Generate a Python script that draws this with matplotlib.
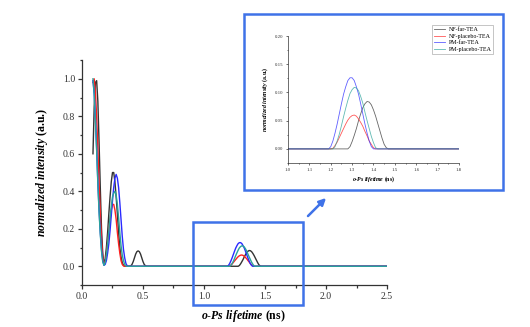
# o-Ps lifetime distribution plot with zoomed inset
import matplotlib
matplotlib.use("Agg")
import numpy as np
from matplotlib import pyplot as plt
from matplotlib.patches import Rectangle, FancyArrowPatch
from matplotlib.ticker import MultipleLocator

plt.rcParams['font.family'] = ['Liberation Serif', 'DejaVu Serif']
plt.rcParams['mathtext.fontset'] = 'custom'
plt.rcParams['mathtext.it'] = 'Liberation Serif:italic:bold'
plt.rcParams['mathtext.rm'] = 'Liberation Serif:bold'
plt.rcParams['mathtext.default'] = 'it'

# lifetime grid (ns): short part and long part
lifetime_short = [0.09, 0.10, 0.11, 0.12, 0.13, 0.14, 0.15, 0.16, 0.17, 0.18,
                  0.19, 0.20, 0.21, 0.22, 0.23, 0.24, 0.25, 0.26, 0.27, 0.28,
                  0.29, 0.30, 0.31, 0.32, 0.33, 0.34, 0.35, 0.36, 0.37, 0.38,
                  0.39, 0.40, 0.41, 0.42, 0.43, 0.44, 0.45, 0.46, 0.47, 0.48,
                  0.49, 0.50, 0.51, 0.52, 0.53, 0.54]
lifetime_long = [1.18, 1.19, 1.20, 1.21, 1.22, 1.23, 1.24, 1.25, 1.26, 1.27,
                 1.28, 1.29, 1.30, 1.31, 1.32, 1.33, 1.34, 1.35, 1.36, 1.37,
                 1.38, 1.39, 1.40, 1.41, 1.42, 1.43, 1.44, 1.45, 1.46, 1.47,
                 1.48, 2.50]

nf_far_short = [0.60, 0.85, 0.98, 0.99, 0.88, 0.66, 0.42, 0.20, 0.07, 0.01,
                0.04, 0.10, 0.18, 0.28, 0.37, 0.45, 0.50, 0.50, 0.45, 0.37,
                0.28, 0.18, 0.10, 0.05, 0.02, 0.005, 0.0, 0.0, 0.0, 0.0,
                0.0, 0.002, 0.01, 0.025, 0.045, 0.065, 0.078, 0.082, 0.078, 0.065,
                0.045, 0.025, 0.01, 0.003, 0.0, 0.0]
nf_far_long = [0.0, 0.0, 0.0, 0.0, 0.0, 0.0, 0.0, 0.0, 0.0, 0.0,
               0.0, 0.004, 0.013, 0.024, 0.036, 0.050, 0.062, 0.073, 0.080, 0.084,
               0.083, 0.078, 0.069, 0.058, 0.045, 0.032, 0.019, 0.008, 0.002, 0.0,
               0.0, 0.0]

nf_placebo_short = [0.98, 1.00, 0.93, 0.80, 0.63, 0.45, 0.28, 0.14, 0.05, 0.01,
                    0.02, 0.06, 0.12, 0.19, 0.25, 0.30, 0.33, 0.33, 0.30, 0.25,
                    0.18, 0.12, 0.07, 0.03, 0.01, 0.002, 0.0, 0.0, 0.0, 0.0,
                    0.0, 0.0, 0.0, 0.0, 0.0, 0.0, 0.0, 0.0, 0.0, 0.0,
                    0.0, 0.0, 0.0, 0.0, 0.0, 0.0]
nf_placebo_long = [0.0, 0.0, 0.0, 0.001, 0.006, 0.012, 0.020, 0.028, 0.036, 0.044,
                   0.051, 0.056, 0.059, 0.060, 0.058, 0.053, 0.047, 0.040, 0.031, 0.023,
                   0.014, 0.008, 0.002, 0.0, 0.0, 0.0, 0.0, 0.0, 0.0, 0.0,
                   0.0, 0.0]

pm_far_short = [0.99, 0.92, 0.79, 0.63, 0.45, 0.30, 0.18, 0.09, 0.03, 0.005,
                0.01, 0.03, 0.07, 0.12, 0.19, 0.27, 0.35, 0.42, 0.47, 0.49,
                0.47, 0.42, 0.34, 0.25, 0.16, 0.09, 0.045, 0.015, 0.003, 0.0,
                0.0, 0.0, 0.0, 0.0, 0.0, 0.0, 0.0, 0.0, 0.0, 0.0,
                0.0, 0.0, 0.0, 0.0, 0.0, 0.0]
pm_far_long = [0.0, 0.0, 0.004, 0.014, 0.028, 0.044, 0.062, 0.080, 0.097, 0.110,
               0.121, 0.126, 0.126, 0.121, 0.110, 0.097, 0.080, 0.062, 0.044, 0.028,
               0.014, 0.004, 0.0, 0.0, 0.0, 0.0, 0.0, 0.0, 0.0, 0.0,
               0.0, 0.0]

pm_placebo_short = [1.00, 0.92, 0.78, 0.62, 0.44, 0.29, 0.17, 0.08, 0.025, 0.005,
                    0.02, 0.06, 0.12, 0.19, 0.26, 0.32, 0.37, 0.39, 0.40, 0.38,
                    0.33, 0.26, 0.18, 0.11, 0.06, 0.03, 0.01, 0.002, 0.0, 0.0,
                    0.0, 0.0, 0.0, 0.0, 0.0, 0.0, 0.0, 0.0, 0.0, 0.0,
                    0.0, 0.0, 0.0, 0.0, 0.0, 0.0]
pm_placebo_long = [0.0, 0.0, 0.0, 0.0, 0.004, 0.014, 0.026, 0.041, 0.057, 0.072,
                   0.086, 0.098, 0.105, 0.109, 0.108, 0.103, 0.093, 0.081, 0.065, 0.050,
                   0.036, 0.022, 0.011, 0.002, 0.0, 0.0, 0.0, 0.0, 0.0, 0.0,
                   0.0, 0.0]

labels = ["NF-far-TEA", "NF-placebo-TEA", "PM-far-TEA", "PM-placebo-TEA"]
colors = ["#333333", "#ff2020", "#2a2aff", "#2aa39a"]

x = lifetime_short + lifetime_long
series = [nf_far_short + nf_far_long,
          nf_placebo_short + nf_placebo_long,
          pm_far_short + pm_far_long,
          pm_placebo_short + pm_placebo_long]

BOX_COLOR = "#3f72e8"
AX_COLOR = "#333333"


def style_axes(ax, fs, major_len, minor_len, lw):
    for s in ["top", "right"]:
        ax.spines[s].set_visible(False)
    for s in ["left", "bottom"]:
        ax.spines[s].set_linewidth(lw)
        ax.spines[s].set_color(AX_COLOR)
    ax.tick_params(which="major", direction="out", length=major_len, width=lw,
                   labelsize=fs, colors=AX_COLOR, pad=2)
    ax.tick_params(which="minor", direction="out", length=minor_len, width=lw,
                   colors=AX_COLOR)


fig = plt.figure(figsize=(5.3, 3.27), dpi=100)

# メインのグラフ
ax = fig.add_axes([0.1547, 0.1284, 0.5755, 0.688])
for y, c in zip(series, colors):
    ax.plot(x, y, color=c, linewidth=1.0)
ax.set_xlim(0, 2.5)
ax.set_ylim(-0.1, 1.1)
ax.xaxis.set_major_locator(MultipleLocator(0.5))
ax.xaxis.set_minor_locator(MultipleLocator(0.25))
ax.yaxis.set_major_locator(MultipleLocator(0.2))
ax.yaxis.set_minor_locator(MultipleLocator(0.1))
style_axes(ax, 7, 3, 1.8, 0.9)
ax.set_xlabel(r"$o$-$Ps\ lifetime$ (ns)", fontsize=8.5, fontweight="bold")
ax.set_ylabel(r"$normalized\ intensity$ (a.u.)", fontsize=8.5, fontweight="bold")
ax.xaxis.set_label_coords(0.53, -0.1)
ax.yaxis.set_label_coords(-0.105, 0.5)

# 拡大部分
ins = fig.add_axes([0.5434, 0.5015, 0.3226, 0.3884])
for y, c, lb in zip(series, colors, labels):
    ins.plot(x, y, color=c, linewidth=0.6, alpha=0.75, label=lb)
ins.set_xlim(1.0, 1.8)
ins.set_ylim(-0.025, 0.2)
ins.xaxis.set_major_locator(MultipleLocator(0.1))
ins.xaxis.set_minor_locator(MultipleLocator(0.05))
ins.yaxis.set_major_locator(MultipleLocator(0.05))
ins.yaxis.set_minor_locator(MultipleLocator(0.025))
style_axes(ins, 3.5, 1.5, 0.8, 0.5)
ins.set_xlabel(r"$o$-$Ps\ lifetime$ (ns)", fontsize=4.2, fontweight="bold", labelpad=2)
ins.set_ylabel(r"$normalized\ intensity$ (a.u.)", fontsize=4.2, fontweight="bold", labelpad=3)
leg = ins.legend(loc="upper left", bbox_to_anchor=(0.809, 0.9327),
                 bbox_transform=fig.transFigure, fontsize=4.3, frameon=True,
                 fancybox=False, edgecolor="#999999", handlelength=2.0,
                 labelspacing=0.25, borderpad=0.3, handletextpad=0.5)
leg.get_frame().set_linewidth(0.5)

# 枠と矢印
fig.patches.append(Rectangle((0.4604, 0.419), 0.4886, 0.538, transform=fig.transFigure,
                             fill=False, edgecolor=BOX_COLOR, linewidth=1.8))
fig.patches.append(Rectangle((0.3642, 0.0673), 0.2075, 0.2538, transform=fig.transFigure,
                             fill=False, edgecolor=BOX_COLOR, linewidth=1.8))
fig.patches.append(FancyArrowPatch((0.5774, 0.3333), (0.6189, 0.4006),
                                   transform=fig.transFigure, arrowstyle="-|>",
                                   mutation_scale=10, color=BOX_COLOR, linewidth=1.8))

fig.savefig("out.png", dpi=100)
